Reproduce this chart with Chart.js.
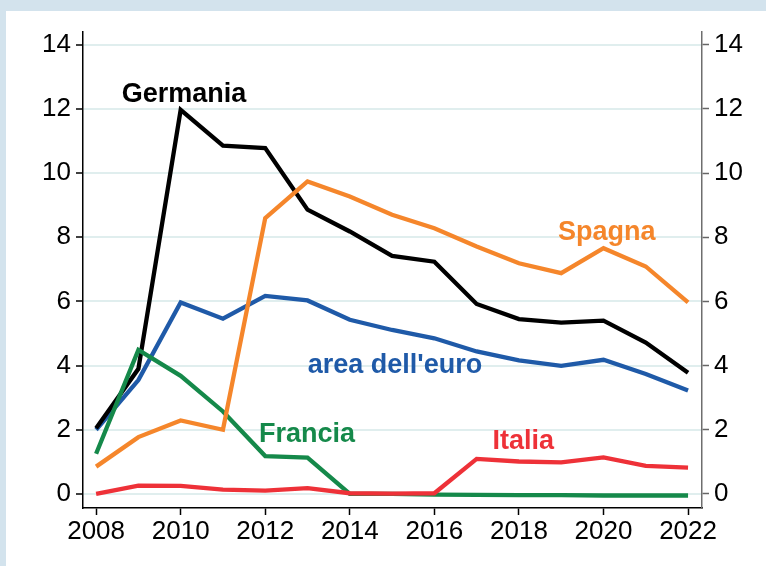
<!DOCTYPE html>
<html>
<head>
<meta charset="utf-8">
<script src="https://cdn.jsdelivr.net/npm/chart.js@4/dist/chart.umd.min.js"></script>
<style>
html,body{margin:0;padding:0;background:#d3e3ed;}
canvas{display:block;}
</style>
</head>
<body>
<canvas id="c" width="766" height="566"></canvas>
<script>
const years = [2008,2009,2010,2011,2012,2013,2014,2015,2016,2017,2018,2019,2020,2021,2022];
const germania = [2.05,3.9,11.97,10.86,10.78,8.86,8.18,7.42,7.24,5.92,5.45,5.34,5.40,4.72,3.78];
const spagna   = [0.85,1.77,2.29,2.0,8.6,9.74,9.27,8.70,8.28,7.71,7.19,6.88,7.66,7.09,5.97];
const euro     = [2.0,3.55,5.97,5.46,6.17,6.03,5.43,5.11,4.85,4.44,4.16,3.99,4.18,3.74,3.22];
const francia  = [1.25,4.49,3.68,2.57,1.18,1.13,0.0,0.0,-0.02,-0.03,-0.04,-0.04,-0.05,-0.05,-0.05];
const italia   = [0.0,0.26,0.25,0.13,0.1,0.18,0.02,0.01,0.02,1.09,1.01,0.98,1.14,0.87,0.82];
const xTicks = [2008,2010,2012,2014,2016,2018,2020,2022];
const yTicks = [0,2,4,6,8,10,12,14];
const seriesLabels = [
  {text:'Germania', color:'#000000', x:2010.08, y:12.22},
  {text:'Spagna', color:'#f5862b', x:2020.08, y:7.92},
  {text:"area dell'euro", color:'#1f5aa8', x:2015.07, y:3.77},
  {text:'Francia', color:'#15894a', x:2012.99, y:1.63},
  {text:'Italia', color:'#ee3138', x:2018.10, y:1.39}
];

const pts = arr => years.map((y,i)=>({x:y, y:arr[i]}));
const FONT = '"Liberation Sans", Arial, sans-serif';

const bgPlugin = {
  id:'bg',
  beforeDraw(chart){
    const ctx = chart.ctx;
    ctx.save();
    ctx.fillStyle = '#d3e3ed';
    ctx.fillRect(0,0,chart.width,chart.height);
    ctx.fillStyle = '#ffffff';
    ctx.fillRect(6,11,chart.width-6,chart.height-11);
    ctx.restore();
  }
};
const labelPlugin = {
  id:'seriesLabels',
  afterDatasetsDraw(chart){
    const ctx = chart.ctx, xs = chart.scales.x, ys = chart.scales.y;
    ctx.save();
    ctx.font = 'bold 27px ' + FONT;
    ctx.textAlign = 'center';
    ctx.textBaseline = 'alphabetic';
    seriesLabels.forEach(l=>{
      ctx.fillStyle = l.color;
      ctx.fillText(l.text, xs.getPixelForValue(l.x), ys.getPixelForValue(l.y));
    });
    ctx.restore();
  }
};

const ds = (data,color)=>({data:pts(data), borderColor:color, backgroundColor:color, borderWidth:4.3, pointRadius:0, tension:0, fill:false, borderJoinStyle:'miter'});

new Chart(document.getElementById('c'), {
  type:'line',
  data:{datasets:[
    ds(italia,'#ee3138'),
    ds(spagna,'#f5862b'),
    ds(francia,'#15894a'),
    ds(germania,'#000000'),
    ds(euro,'#1f5aa8')
  ]},
  options:{
    responsive:false,
    animation:false,
    events:[],
    layout:{padding:{top:32,left:0,right:0,bottom:0}},
    plugins:{legend:{display:false},tooltip:{enabled:false}},
    scales:{
      x:{
        type:'linear', min:2007.69, max:2022.33,
        afterBuildTicks(s){ s.ticks = xTicks.map(v=>({value:v})); },
        afterFit(s){ s.height = 58; },
        grid:{drawOnChartArea:false, drawTicks:true, tickLength:7, tickColor:'#000', tickWidth:1.5},
        border:{display:true, color:'#000', width:1.5},
        ticks:{font:{family:FONT,size:26}, color:'#000', padding:1, maxRotation:0, autoSkip:false, callback:v=>String(v)}
      },
      y:{
        type:'linear', position:'left', min:-0.44, max:14.4,
        afterBuildTicks(s){ s.ticks = yTicks.map(v=>({value:v})); },
        afterFit(s){ s.width = 83; },
        grid:{drawOnChartArea:true, color:'#e0eeee', lineWidth:2, drawTicks:true, tickLength:7, tickColor:'#000', tickWidth:1.5},
        border:{display:true, color:'#000', width:1.5},
        ticks:{font:{family:FONT,size:26}, color:'#000', padding:5, autoSkip:false, callback:v=>String(v)}
      },
      y2:{
        type:'linear', position:'right', min:-0.44, max:14.4,
        afterBuildTicks(s){ s.ticks = yTicks.map(v=>({value:v})); },
        afterFit(s){ s.width = 64; },
        grid:{drawOnChartArea:false, drawTicks:true, tickLength:7, tickColor:'#666', tickWidth:1.5},
        border:{display:true, color:'#6e6e6e', width:1.5},
        ticks:{font:{family:FONT,size:26}, color:'#000', padding:5, autoSkip:false, callback:v=>String(v)}
      }
    }
  },
  plugins:[bgPlugin,labelPlugin]
});
</script>
</body>
</html>
